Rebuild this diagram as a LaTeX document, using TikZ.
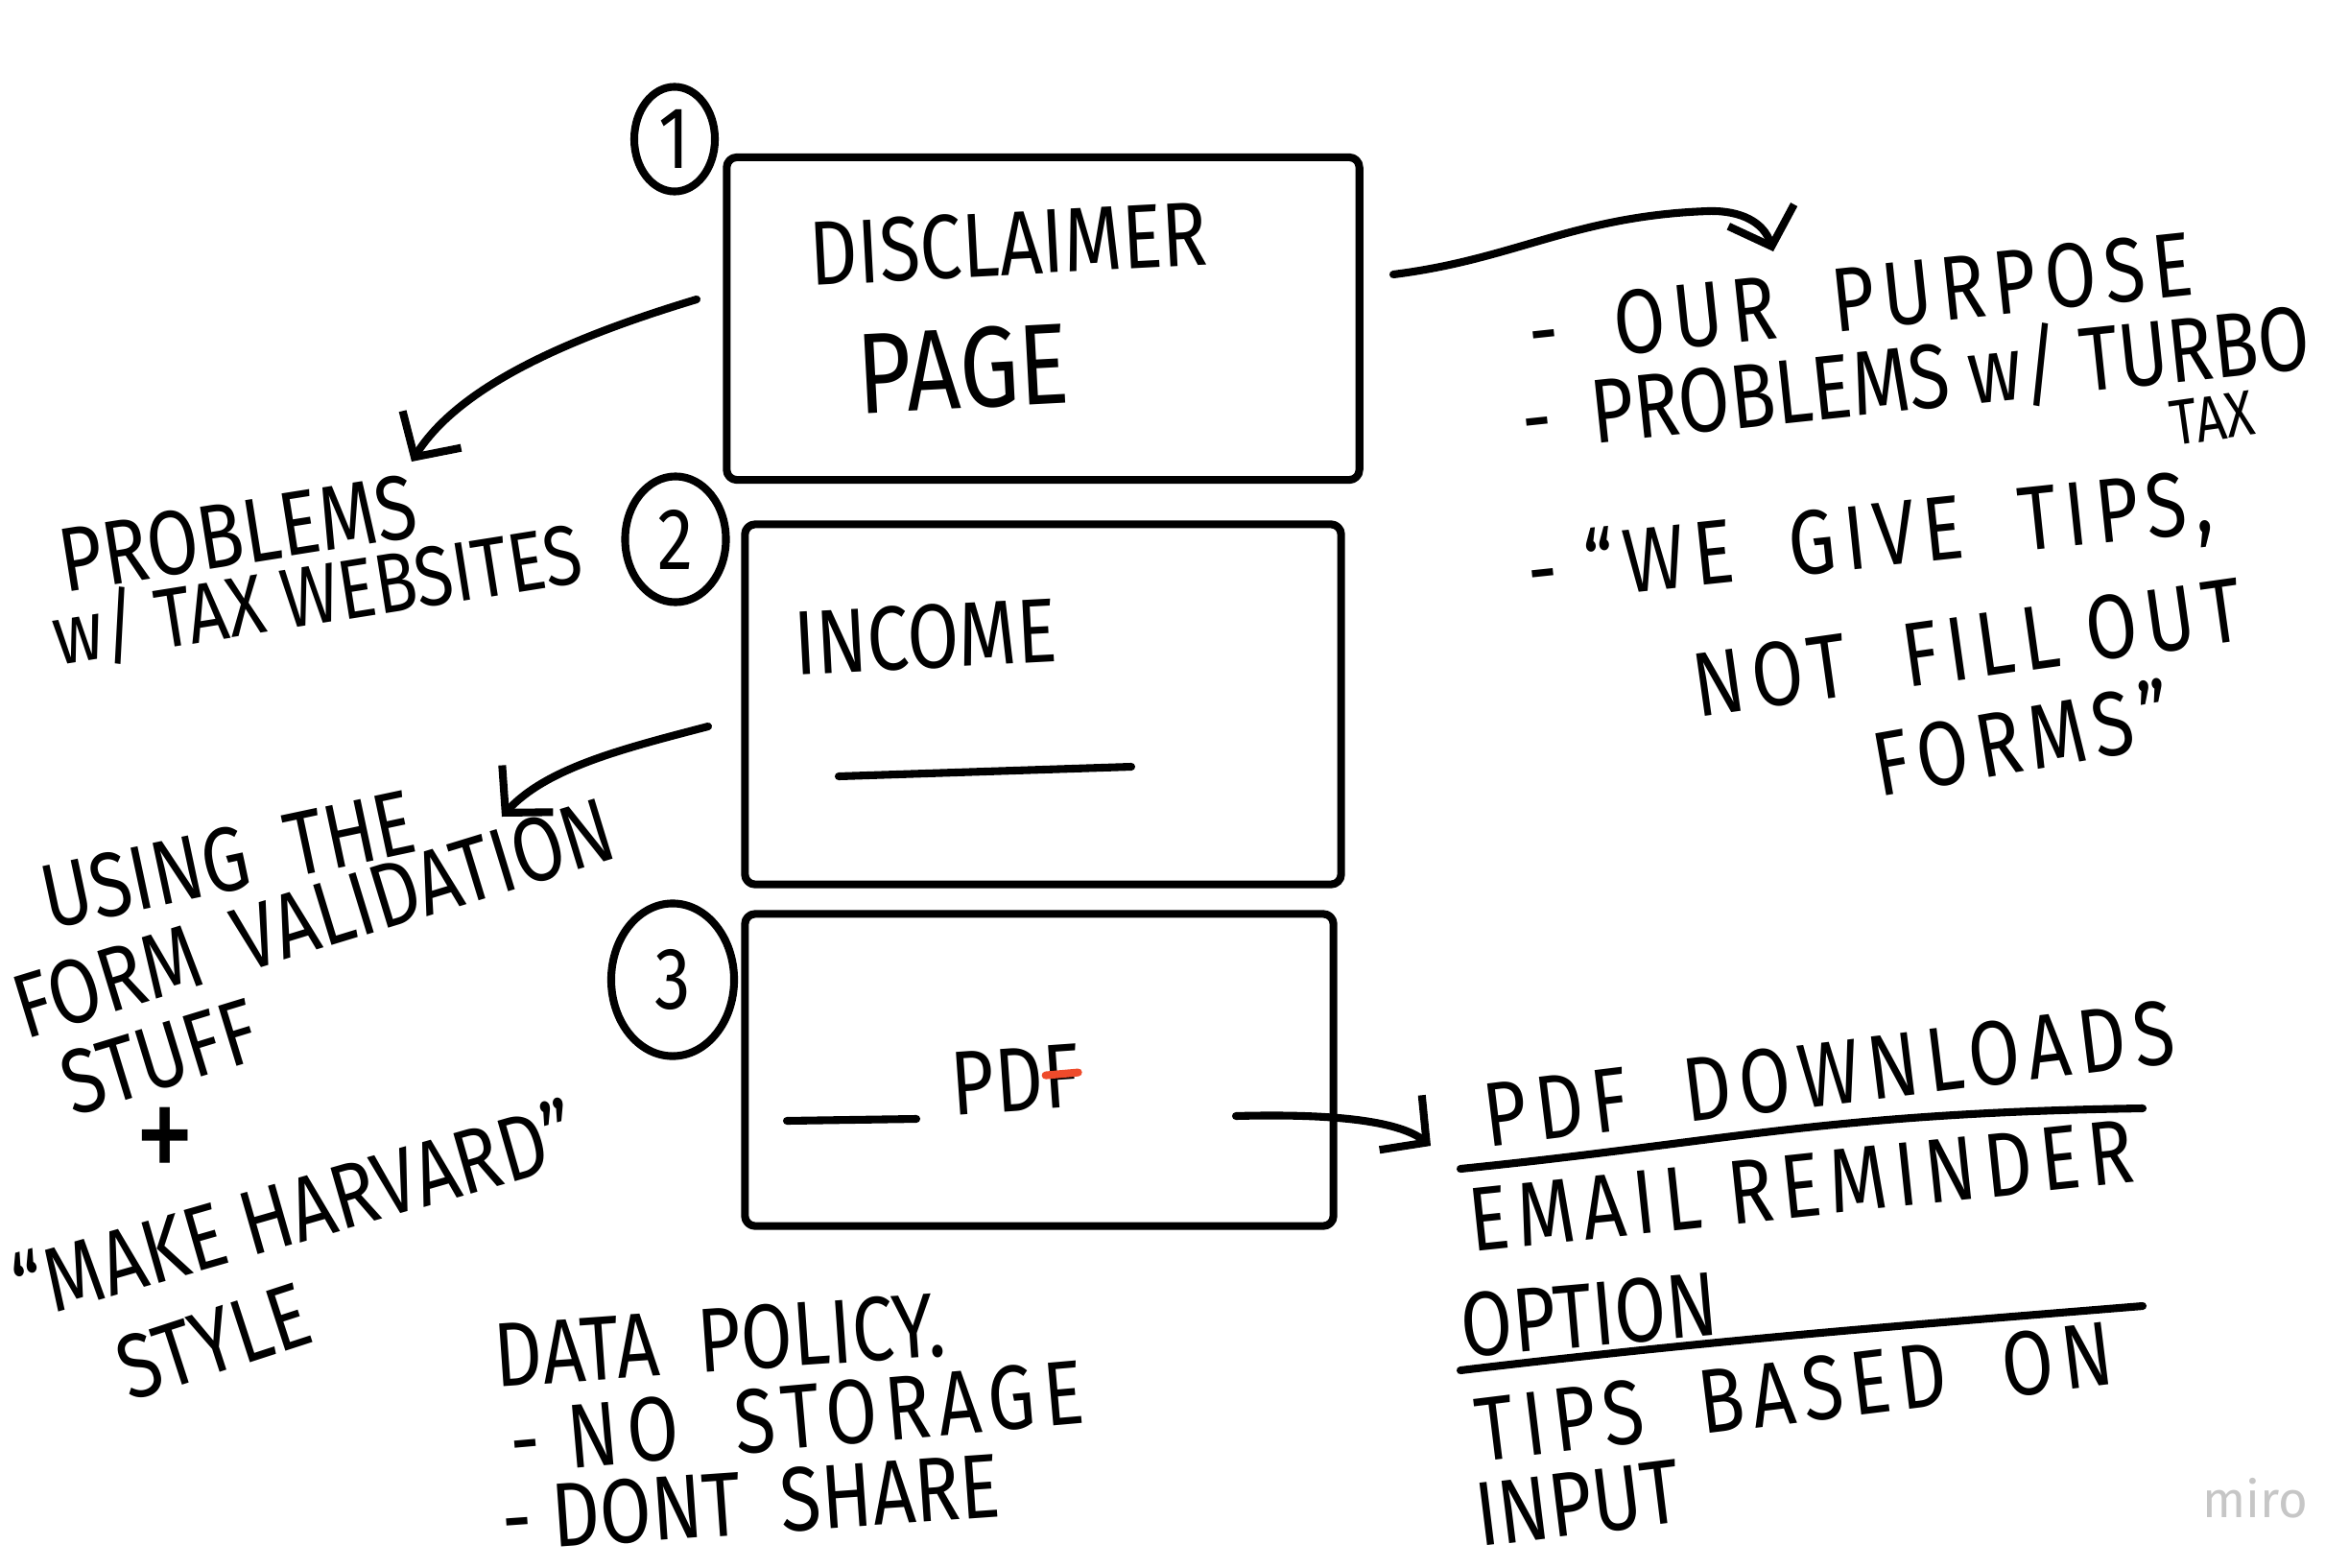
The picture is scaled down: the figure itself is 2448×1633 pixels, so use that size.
\documentclass[tikz,border=0pt]{standalone}
\usepackage{fontspec}
\setmainfont{Fira Sans}
\newfontfamily\handfont{Fira Sans}[FakeStretch=0.82]
\newfontfamily\handwide{Fira Sans}[FakeStretch=0.82, LetterSpace=9]
\usetikzlibrary{arrows.meta,shapes.geometric}
\definecolor{markred}{HTML}{EE4B2B}

\tikzset{
  pen/.style={line width=2.3pt, line cap=round, line join=round},
  sheet/.style={draw, pen, rounded corners=3pt, inner sep=0pt},
  numring/.style={draw, ellipse, pen, inner sep=0pt, font=\handfont\fontsize{26}{30}\selectfont},
  note/.style={anchor=west, inner sep=0pt, font=\handfont\fontsize{27}{31}\selectfont},
  widenote/.style={note, font=\handwide\fontsize{27}{31}\selectfont},
  bignote/.style={note, font=\handfont\fontsize{34}{38}\selectfont},
  tinynote/.style={note, font=\handfont\fontsize{19}{22}\selectfont}
}

\begin{document}
\begin{tikzpicture}[x=0.01cm, y=-0.01cm, >={Straight Barb[length=0.34cm,width=0.72cm]}]
\useasboundingbox (0,0) rectangle (2448,1633);

\node[sheet, minimum width=6.59cm, minimum height=3.36cm] (disclaimer) at (1087,332) {};
\node[sheet, minimum width=6.21cm, minimum height=3.75cm] (income) at (1087,734) {};
\node[sheet, minimum width=6.13cm, minimum height=3.25cm] (pdf) at (1083,1115) {};

\node[numring, minimum width=0.84cm, minimum height=1.09cm] (one) at (703,145) {1};
\node[numring, minimum width=1.05cm, minimum height=1.31cm] (two) at (704,562) {2};
\node[numring, minimum width=1.28cm, minimum height=1.59cm] (three) at (701,1021) {3};

\node[note, rotate=3] (disclabel) at (843,265) {DISCLAIMER};
\node[bignote, rotate=3] (pagelabel) at (893,390) {PAGE};
\node[note, rotate=3] (incomelabel) at (827,671) {INCOME};
\node[note, rotate=4] (pdflabel) at (991,1130) {PDF};

\draw[pen] (874,809) -- (1179,799);
\draw[pen] (820,1168) -- (955,1166);
\draw[pen, markred] ([xshift=-0.36cm]pdflabel.east) -- ([xshift=-0.02cm,yshift=0.03cm]pdflabel.east);

\node[widenote, rotate=6] (purpose) at (1592,347) {-\ \ OUR\ \ PURPOSE};
\node[note, rotate=6] (turbo) at (1585,437) {-\ \ PROBLEMS\ w/\ TURBO};
\node[tinynote, rotate=8] (turbotax) at (2262,442) {TAX};
\node[widenote, rotate=6] (tips) at (1592,601) {-\ “WE\ \ GIVE\ \ TIPS,};
\node[widenote, rotate=8] (fill) at (1764,715) {NOT\ \ FILL\ OUT};
\node[widenote, rotate=10] (forms) at (1952,796) {FORMS”};

\node[note, rotate=9] (probs) at (62,585) {PROBLEMS};
\node[note, rotate=9, font=\handfont\fontsize{25}{29}\selectfont] (sites) at (55,663) {w/\ TAX\ WEBSITES};
\node[note, rotate=12] (using) at (44,937) {USING\ \ THE};
\node[note, rotate=17] (formval) at (16,1052) {FORM\ \ VALIDATION};
\node[note, rotate=17] (stuff) at (66,1132) {STUFF};
\node[note, anchor=center, font=\handfont\fontsize{44}{48}\selectfont] (plus) at (172,1194) {+};
\node[note, rotate=16] (harvard) at (16,1343) {“MAKE HARVARD”};
\node[note, rotate=18] (style) at (125,1430) {STYLE};

\node[note, rotate=4] (policy) at (515,1413) {DATA\ \ POLICY.};
\node[widenote, rotate=5] (storage) at (531,1503) {-\ NO\ \ STORAGE};
\node[note, rotate=4] (share) at (523,1584) {-\ DONT\ \ SHARE};

\node[widenote, rotate=7] (downloads) at (1546,1163) {PDF\ \ DOWNLOADS};
\draw[pen] (1522,1218) .. controls (1800,1190) and (1900,1160) .. (2233,1155);
\node[widenote, rotate=6] (reminder) at (1530,1272) {EMAIL\ REMINDER};
\node[note, rotate=5] (option) at (1522,1382) {OPTION};
\draw[pen] (1522,1428) .. controls (1800,1395) and (2000,1380) .. (2233,1361);
\node[widenote, rotate=7] (based) at (1538,1491) {TIPS\ \ BASED\ \ ON};
\node[note, rotate=7] (input) at (1538,1580) {INPUT};

\node[font=\fontsize{15}{18}\selectfont, text=gray!45] (miro) at (2350,1561) {miro};

\coordinate (leftout) at (726,312);
\coordinate (leftin) at (429,481);
\coordinate (rightout) at (1452,286);
\coordinate (rightin) at (1848,262);
\coordinate (incout) at (738,757);
\coordinate (incin) at (523,851);
\coordinate (pdfout) at (1288,1163);
\coordinate (pdfin) at (1491,1194);

\draw[pen,->] (leftout) .. controls (600,350) and (480,400) .. (leftin);
\draw[pen,->] (rightout) .. controls (1580,270) and (1640,225) .. (1780,220) .. controls (1815,219) and (1838,232) .. (rightin);
\draw[pen,->] (incout) .. controls (650,780) and (570,800) .. (incin);
\draw[pen,->] (pdfout) .. controls (1400,1160) and (1460,1170) .. (pdfin);
\end{tikzpicture}
\end{document}
